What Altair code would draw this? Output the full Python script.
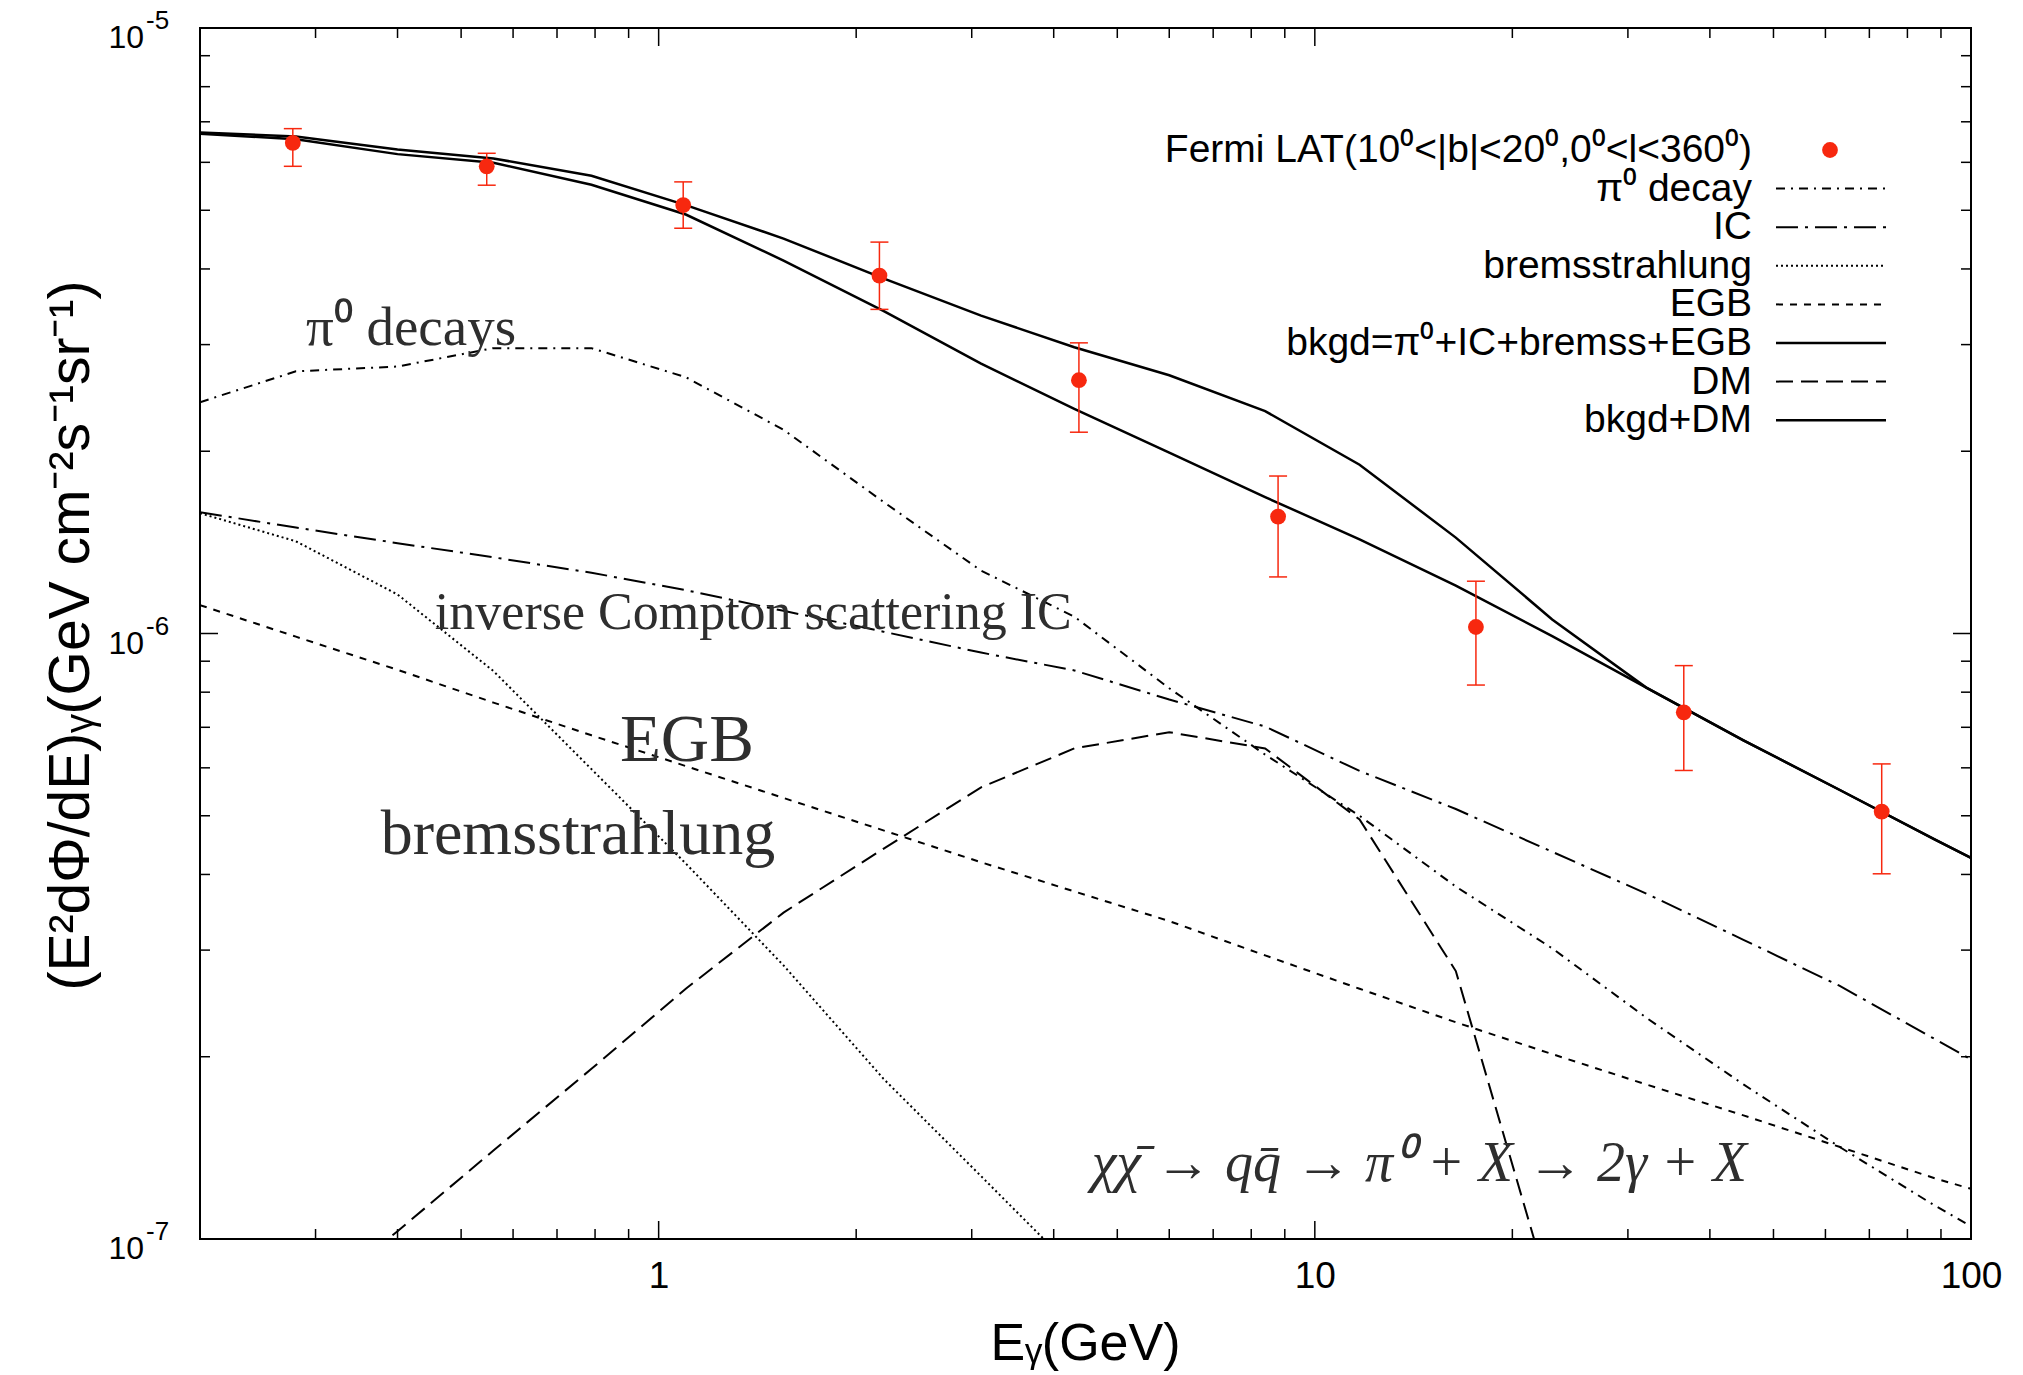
import altair as alt
import pandas as pd

# ---------------- data ----------------
E_nodes = [0.2, 0.28, 0.4, 0.56, 0.79, 1.1, 1.55, 2.2, 3.1, 4.3, 6.0, 8.4,
           11.7, 16.4, 23, 32, 45, 63, 88, 100]
pi0_decay = [2.41e-6, 2.71e-6, 2.76e-6, 2.96e-6, 2.96e-6, 2.65e-6, 2.17e-6, 1.65e-6,
             1.27e-6, 1.066e-6, 8.12e-7, 6.31e-7, 5.00e-7, 3.82e-7, 3.02e-7, 2.32e-7,
             1.80e-7, 1.42e-7, 1.136e-7, 1.05e-7]
ic = [1.586e-6, 1.496e-6, 1.41e-6, 1.336e-6, 1.26e-6, 1.179e-6, 1.09e-6, 1.007e-6,
      9.30e-7, 8.69e-7, 7.78e-7, 7.02e-7, 5.93e-7, 5.13e-7, 4.36e-7, 3.72e-7,
      3.12e-7, 2.62e-7, 2.14e-7, 1.98e-7]
brems_E = [0.2, 0.28, 0.4, 0.56, 0.79, 1.1, 1.55, 2.2, 3.1, 4.3]
brems = [1.58e-6, 1.42e-6, 1.16e-6, 8.67e-7, 5.97e-7, 4.17e-7, 2.83e-7, 1.84e-7,
         1.27e-7, 8.9e-8]
egb = [1.114e-6, 9.88e-7, 8.71e-7, 7.69e-7, 6.79e-7, 6.04e-7, 5.35e-7, 4.73e-7,
       4.19e-7, 3.75e-7, 3.35e-7, 2.94e-7, 2.59e-7, 2.28e-7, 2.02e-7, 1.80e-7,
       1.60e-7, 1.42e-7, 1.26e-7, 1.21e-7]
dm_E = [0.28, 0.4, 0.56, 0.79, 1.1, 1.55, 2.2, 3.1, 4.3, 6.0, 8.4, 11.7, 16.4, 23]
dm = [7.5e-8, 1.03e-7, 1.40e-7, 1.91e-7, 2.59e-7, 3.46e-7, 4.41e-7, 5.57e-7,
      6.46e-7, 6.87e-7, 6.46e-7, 4.93e-7, 2.77e-7, 7.9e-8]
bkgd = [6.69e-6, 6.55e-6, 6.19e-6, 5.99e-6, 5.51e-6, 4.92e-6, 4.13e-6, 3.41e-6,
        2.79e-6, 2.35e-6, 1.99e-6, 1.68e-6, 1.43e-6, 1.20e-6, 9.9e-7, 8.14e-7,
        6.66e-7, 5.52e-7, 4.57e-7, 4.26e-7]
bkgd_dm = [6.72e-6, 6.62e-6, 6.30e-6, 6.09e-6, 5.70e-6, 5.10e-6, 4.49e-6, 3.86e-6,
           3.35e-6, 2.97e-6, 2.67e-6, 2.33e-6, 1.90e-6, 1.44e-6, 1.055e-6, 8.14e-7,
           6.66e-7, 5.52e-7, 4.57e-7, 4.26e-7]

fermi_E = [0.277, 0.547, 1.09, 2.17, 4.37, 8.79, 17.6, 36.5, 73.1]
fermi_flux = [6.46e-6, 5.91e-6, 5.10e-6, 3.90e-6, 2.62e-6, 1.56e-6, 1.025e-6, 7.41e-7, 5.08e-7]
fermi_hi = [6.82e-6, 6.21e-6, 5.57e-6, 4.43e-6, 3.02e-6, 1.82e-6, 1.22e-6, 8.85e-7, 6.09e-7]
fermi_lo = [5.91e-6, 5.50e-6, 4.67e-6, 3.43e-6, 2.15e-6, 1.24e-6, 8.22e-7, 5.94e-7, 4.01e-7]

x_major = [1, 10, 100]
x_minor = [0.3, 0.4, 0.5, 0.6, 0.7, 0.8, 0.9, 2, 3, 4, 5, 6, 7, 8, 9,
           20, 30, 40, 50, 60, 70, 80, 90]
y_major = [1e-7, 1e-6, 1e-5]
y_major_base = ["10", "10", "10"]
y_major_exp = ["-7", "-6", "-5"]
y_minor = [2e-7, 3e-7, 4e-7, 5e-7, 6e-7, 7e-7, 8e-7, 9e-7,
           2e-6, 3e-6, 4e-6, 5e-6, 6e-6, 7e-6, 8e-6, 9e-6]

legend_labels = ["Fermi LAT(10⁰<|b|<20⁰,0⁰<l<360⁰)", "π⁰ decay", "IC", "bremsstrahlung",
                 "EGB", "bkgd=π⁰+IC+bremss+EGB", "DM", "bkgd+DM"]

ann_texts = ["π⁰  decays", "inverse Compton scattering IC", "EGB", "bremsstrahlung",
             "χχ̄ → qq̄ → π⁰ + X → 2γ + X"]
ann_E = [0.29, 0.456, 0.873, 0.377, 4.57]
ann_flux = [3.19e-6, 1.08e-6, 6.65e-7, 4.65e-7, 1.33e-7]

# ---------------- layout / style ----------------
W, H = 1771, 1211
RED = "#f7280f"
SANS = "Liberation Sans"
SERIF = "Liberation Serif"

x_scale = alt.Scale(type="log", domain=[0.2, 100], nice=False)
y_scale = alt.Scale(type="log", domain=[1e-7, 1e-5], nice=False)

x_axis = alt.Axis(
    title="Eᵧ(GeV)", values=x_major, format="d", ticks=False, domain=False, grid=False,
    labelFont=SANS, labelFontSize=37, labelColor="black", labelPadding=19,
    labelFlush=False, labelOverlap=False, labelBound=False,
    titleFont=SANS, titleFontSize=52, titleFontWeight="normal", titleColor="black",
    titleX=885, titleY=120, titleBaseline="alphabetic", titleAlign="center",
)
y_axis = alt.Axis(
    title="(E²dΦ/dE)ᵧ(GeV cm⁻²s⁻¹sr⁻¹)", values=y_major, labels=False,
    ticks=False, domain=False, grid=False,
    titleFont=SANS, titleFontSize=57, titleFontWeight="normal", titleColor="black",
    titleAngle=270, titleX=-112, titleY=607, titleBaseline="alphabetic", titleAlign="center",
)


def X(field="E"):
    return alt.X(f"{field}:Q", scale=x_scale, axis=x_axis)


def Y(field="flux"):
    return alt.Y(f"{field}:Q", scale=y_scale, axis=y_axis)


def curve(Es, vals, width=2.0, dash=None):
    df = pd.DataFrame({"E": Es, "flux": vals})
    kw = dict(color="black", strokeWidth=width, clip=True)
    if dash is not None:
        kw["strokeDash"] = dash
    return alt.Chart(df).mark_line(**kw).encode(x=X(), y=Y())


DASH_PI0 = [9, 6, 2, 6]
DASH_IC = [22, 7, 3, 7]
DASH_BREMS = [2, 3]
DASH_EGB = [7, 7]
DASH_DM = [17, 8]

layers = []
layers.append(curve(E_nodes, pi0_decay, 2.0, DASH_PI0))
layers.append(curve(E_nodes, ic, 2.0, DASH_IC))
layers.append(curve(brems_E, brems, 2.0, DASH_BREMS))
layers.append(curve(E_nodes, egb, 2.0, DASH_EGB))
layers.append(curve(dm_E, dm, 2.0, DASH_DM))
layers.append(curve(E_nodes, bkgd, 2.5))
layers.append(curve(E_nodes, bkgd_dm, 2.5))

# Fermi data with error bars
fermi = pd.DataFrame({"E": fermi_E, "flux": fermi_flux, "lo": fermi_lo, "hi": fermi_hi})
layers.append(alt.Chart(fermi).mark_rule(color=RED, strokeWidth=1.5).encode(
    x=X(), y=Y("lo"), y2="hi:Q"))
layers.append(alt.Chart(fermi).mark_tick(orient="horizontal", color=RED, size=18,
                                         thickness=1.5, opacity=1).encode(x=X(), y=Y("lo")))
layers.append(alt.Chart(fermi).mark_tick(orient="horizontal", color=RED, size=18,
                                         thickness=1.5, opacity=1).encode(x=X(), y=Y("hi")))
layers.append(alt.Chart(fermi).mark_point(filled=True, color=RED, size=250, opacity=1).encode(
    x=X(), y=Y()))

# inward ticks on all four sides
MAJ, MIN = 18, 10
for vals, ln in [(x_major, MAJ), (x_minor, MIN)]:
    d = pd.DataFrame({"E": vals})
    layers.append(alt.Chart(d).mark_rule(color="black", strokeWidth=1.5).encode(
        x=X(), y=alt.value(H), y2=alt.value(H - ln)))
    layers.append(alt.Chart(d).mark_rule(color="black", strokeWidth=1.5).encode(
        x=X(), y=alt.value(0), y2=alt.value(ln)))
for vals, ln in [(y_major, MAJ), (y_minor, MIN)]:
    d = pd.DataFrame({"flux": vals})
    layers.append(alt.Chart(d).mark_rule(color="black", strokeWidth=1.5).encode(
        y=Y(), x=alt.value(0), x2=alt.value(ln)))
    layers.append(alt.Chart(d).mark_rule(color="black", strokeWidth=1.5).encode(
        y=Y(), x=alt.value(W), x2=alt.value(W - ln)))

# y tick labels 10^-n with real superscript layout
ylab = pd.DataFrame({"flux": y_major, "base": y_major_base, "exp": y_major_exp})
layers.append(alt.Chart(ylab).mark_text(
    align="right", baseline="middle", font=SANS, fontSize=32, color="black", dy=10).encode(
    x=alt.value(-56), y=Y(), text="base:N"))
layers.append(alt.Chart(ylab).mark_text(
    align="left", baseline="middle", font=SANS, fontSize=26, color="black", dy=-7).encode(
    x=alt.value(-54), y=Y(), text="exp:N"))

# annotations in the plot
ann_sizes = [55, 52, 67, 64, 56]
for i, t in enumerate(ann_texts):
    d = pd.DataFrame({"E": [ann_E[i]], "flux": [ann_flux[i]], "label": [t]})
    layers.append(alt.Chart(d).mark_text(
        align="left", baseline="middle", font=SERIF, fontSize=ann_sizes[i],
        fontStyle="italic" if i == 4 else "normal", color="#2e2e2e").encode(
        x=X(), y=Y(), text="label:N"))

# legend (top right, labels right-aligned, samples to the right)
LEG_TEXT_X = 1552
LEG_S0, LEG_S1 = 1576, 1686
LEG_DOT_X = 1630
LEG_Y0, LEG_DY = 122, 38.6
dashes = [None, DASH_PI0, DASH_IC, DASH_BREMS, DASH_EGB, None, DASH_DM, None]
for i, lab in enumerate(legend_labels):
    yy = LEG_Y0 + i * LEG_DY
    d = pd.DataFrame({"label": [lab]})
    layers.append(alt.Chart(d).mark_text(
        align="right", baseline="middle", font=SANS, fontSize=39, color="black").encode(
        x=alt.value(LEG_TEXT_X), y=alt.value(yy), text="label:N"))
    if i == 0:
        layers.append(alt.Chart(d).mark_point(filled=True, color=RED, size=250, opacity=1).encode(
            x=alt.value(LEG_DOT_X), y=alt.value(yy)))
    else:
        kw = dict(color="black", strokeWidth=2.5 if dashes[i] is None else 2.0)
        if dashes[i] is not None:
            kw["strokeDash"] = dashes[i]
        layers.append(alt.Chart(d).mark_rule(**kw).encode(
            x=alt.value(LEG_S0), x2=alt.value(LEG_S1), y=alt.value(yy)))

chart = alt.layer(*layers).properties(
    width=W, height=H,
    padding={"left": 200, "top": 28, "right": 52, "bottom": 136},
    autosize=alt.AutoSizeParams(type="none"),
    background="white",
).configure_view(stroke="black", strokeWidth=2)

chart.save("out.html", embed_options={"renderer": "svg", "actions": False})
